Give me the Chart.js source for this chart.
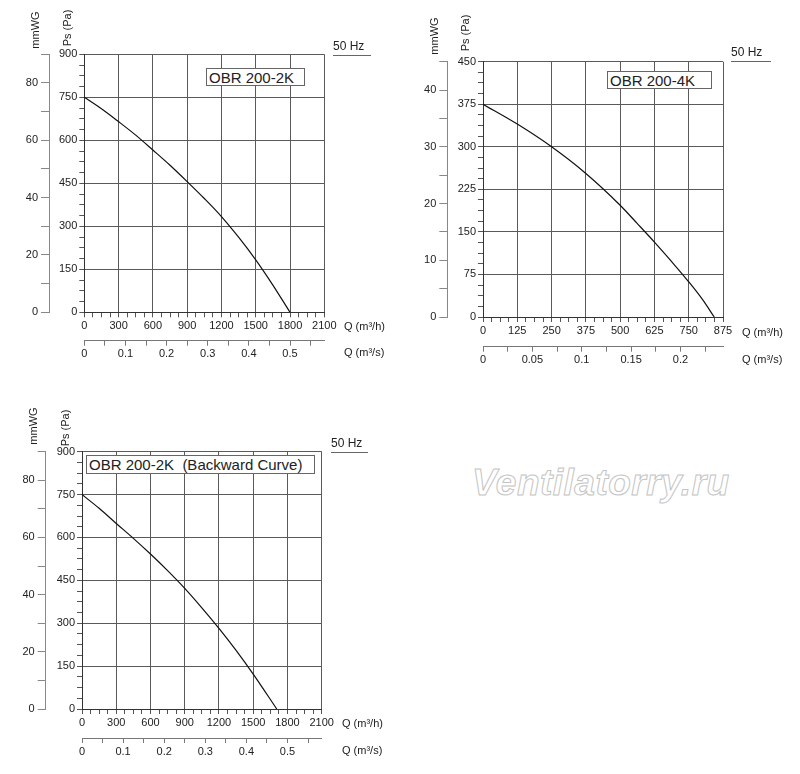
<!DOCTYPE html>
<html>
<head>
<meta charset="utf-8">
<script src="https://cdn.jsdelivr.net/npm/chart.js@4.4.1/dist/chart.umd.min.js"></script>
<style>
  body { margin: 0; background: #fff; width: 800px; height: 774px; position: relative; overflow: hidden;
         font-family: "Liberation Sans", Arial, sans-serif; color: #222; }
  canvas { position: absolute; }
  .t { position: absolute; font-size: 11px; line-height: 12px; white-space: pre; z-index: 2; }
  .rot { transform: translate(-50%, -50%) rotate(-90deg); }
  .hz { position: absolute; font-size: 12px; line-height: 13px; border-bottom: 1px solid #666; padding-bottom: 2px; z-index: 2; }
  .box { position: absolute; background: #fff; border: 1px solid #666; font-size: 15px; line-height: 17px;
         padding-left: 2px; box-sizing: border-box; white-space: pre; z-index: 2; }
  .wm { position: absolute; left: 472px; top: 462px; font-size: 37px; font-weight: bold; font-style: italic;
        color: #fff; -webkit-text-stroke: 1px #c4c4c4; letter-spacing: 0.5px; z-index: 2; }
</style>
</head>
<body>
<canvas id="c1" width="400" height="370" style="left:0;top:0"></canvas>
<canvas id="c2" width="400" height="375" style="left:400px;top:0"></canvas>
<canvas id="c3" width="400" height="370" style="left:0;top:400px"></canvas>

<!-- panel 1 texts -->
<div class="t rot" style="left:35px;top:30px">mmWG</div>
<div class="t rot" style="left:67px;top:28px">Ps (Pa)</div>
<div class="hz" style="left:333px;top:40px;width:38px">50 Hz</div>
<div class="box" style="left:206px;top:68px;width:99px;height:18px">OBR 200-2K</div>
<div class="t" style="left:344px;top:320px">Q (m³/h)</div>
<div class="t" style="left:344px;top:346px">Q (m³/s)</div>

<!-- panel 2 texts -->
<div class="t rot" style="left:434px;top:36px">mmWG</div>
<div class="t rot" style="left:465px;top:33px">Ps (Pa)</div>
<div class="hz" style="left:731px;top:46px;width:40px">50 Hz</div>
<div class="box" style="left:607px;top:71px;width:105px;height:18px">OBR 200-4K</div>
<div class="t" style="left:742px;top:326px">Q (m³/h)</div>
<div class="t" style="left:742px;top:353px">Q (m³/s)</div>

<!-- panel 3 texts -->
<div class="t rot" style="left:33px;top:426px">mmWG</div>
<div class="t rot" style="left:65px;top:428px">Ps (Pa)</div>
<div class="hz" style="left:331px;top:437px;width:37px">50 Hz</div>
<div class="box" style="left:86px;top:455px;width:229px;height:19px">OBR 200-2K  (Backward Curve)</div>
<div class="t" style="left:342px;top:717px">Q (m³/h)</div>
<div class="t" style="left:342px;top:744px">Q (m³/s)</div>

<div class="wm">Ventilatorry.ru</div>

<script>
// OBR 200-2K
const q1 = [0, 150, 300, 450, 600, 750, 900, 1050, 1200, 1350, 1500, 1650, 1800];
const ps1 = [750, 710, 665, 618, 566, 513, 456, 397, 334, 262, 183, 95, 0];
// OBR 200-4K
const q2 = [0, 125, 250, 375, 500, 562, 625, 687, 750, 800, 843];
const ps2 = [375, 340, 300, 253, 197, 165, 132, 98, 62, 31, 0];
// OBR 200-2K (Backward Curve)
const q3 = [0, 150, 300, 450, 600, 750, 900, 1050, 1200, 1350, 1500, 1706];
const ps3 = [750, 702, 649, 597, 542, 484, 422, 354, 282, 205, 122, 0];

// axis ranges and tick steps [max, major, minor]
const qAxis1 = [2100, 300, 75];
const qAxis2 = [875, 125, 31.25];
const sAxis1 = [2100 / 3600, 0.1, 0.05];
const sAxis2 = [875 / 3600, 0.05, 0.025];
const paAxis1 = [900, 150, 37.5];
const paAxis2 = [450, 75, 18.75];
const mmAxis1 = [90, 20, 10];
const mmAxis2 = [45, 10, 5];

Chart.defaults.font.family = "'Liberation Sans', Arial, sans-serif";
Chart.defaults.font.size = 11;
Chart.defaults.color = "#222";

const isMajor = (v, s) => Math.abs(v / s - Math.round(v / s)) < 1e-6;
const fmt = (v) => String(parseFloat(v.toFixed(3)));

function makeChart(id, q, ps, qAx, sAx, paAx, mmAx, geo) {
  // geo: canvas size, chart area edges, mmWG axis line, x axis box heights
  const labelCb = (step) => (v) => (isMajor(v, step) ? fmt(v) : "");
  new Chart(document.getElementById(id), {
    type: "line",
    data: {
      datasets: [
        {
          data: q.map((x, i) => ({ x: x, y: ps[i] })),
          borderColor: "#111",
          borderWidth: 1.2,
          pointRadius: 0,
          cubicInterpolationMode: "monotone",
          fill: false,
        },
      ],
    },
    options: {
      responsive: false,
      animation: false,
      layout: {
        padding: {
          left: 0,
          top: geo.top,
          right: geo.w - geo.right,
          bottom: geo.h - geo.bottom - geo.xH - geo.x2H,
        },
      },
      plugins: { legend: { display: false }, tooltip: { enabled: false } },
      scales: {
        x: {
          type: "linear", position: "bottom", weight: 0,
          min: 0, max: qAx[0],
          ticks: { stepSize: qAx[2], autoSkip: false, maxRotation: 0, padding: 2, callback: labelCb(qAx[1]) },
          grid: {
            color: (c) => (isMajor(c.tick.value, qAx[1]) ? "#5a5a5a" : "rgba(0,0,0,0)"),
            tickColor: "#555", tickLength: 5,
          },
          border: { color: "#333" },
          afterFit: (s) => { s.height = geo.xH; },
        },
        x2: {
          type: "linear", position: "bottom", weight: 1,
          min: 0, max: sAx[0],
          ticks: { stepSize: sAx[2], includeBounds: false, autoSkip: false, maxRotation: 0, padding: 2, callback: labelCb(sAx[1]) },
          grid: { drawOnChartArea: false, tickColor: "#777", tickLength: 5 },
          border: { color: "#777" },
          afterFit: (s) => { s.height = geo.x2H; },
        },
        y: {
          type: "linear", position: "left", weight: 0,
          min: 0, max: paAx[0],
          ticks: { stepSize: paAx[2], autoSkip: false, padding: 2, callback: labelCb(paAx[1]) },
          grid: {
            color: (c) => (isMajor(c.tick.value, paAx[1]) ? "#5a5a5a" : "rgba(0,0,0,0)"),
            tickColor: "#555", tickLength: 5,
          },
          border: { color: "#333" },
          afterFit: (s) => { s.width = geo.left - geo.mm; },
        },
        mm: {
          type: "linear", position: "left", weight: 1,
          min: 0, max: mmAx[0],
          ticks: { stepSize: mmAx[2], autoSkip: false, padding: 3, callback: labelCb(mmAx[1]) },
          grid: { drawOnChartArea: false, tickColor: "#888", tickLength: 8 },
          border: { color: "#888" },
          afterFit: (s) => { s.width = geo.mm; },
        },
      },
    },
  });
}

makeChart("c1", q1, ps1, qAxis1, sAxis1, paAxis1, mmAxis1,
  { w: 400, h: 370, left: 84.3, right: 324.3, top: 54.3, bottom: 312.3, mm: 49, xH: 28.4, x2H: 22 });
makeChart("c2", q2, ps2, qAxis2, sAxis2, paAxis2, mmAxis2,
  { w: 400, h: 375, left: 83, right: 323, top: 61.7, bottom: 317, mm: 47.3, xH: 29.7, x2H: 22 });
makeChart("c3", q3, ps3, qAxis1, sAxis1, paAxis1, mmAxis1,
  { w: 400, h: 370, left: 82, right: 321.7, top: 51.7, bottom: 309, mm: 45.7, xH: 29, x2H: 22 });
</script>
</body>
</html>
